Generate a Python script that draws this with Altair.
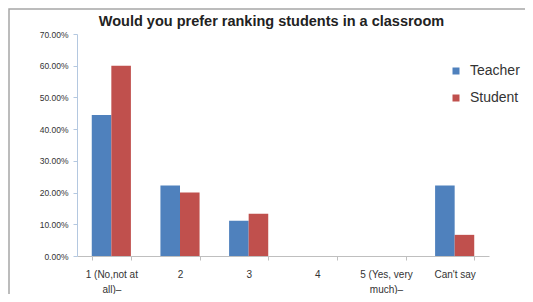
import altair as alt
import pandas as pd

categories = ["1 (No,not at all)–", "2", "3", "4", "5 (Yes, very much)–", "Can't say"]
teacher = [0.4444, 0.2222, 0.1111, 0.0, 0.0, 0.2222]
student = [0.60, 0.20, 0.1333, 0.0, 0.0, 0.0667]
series = ["Teacher", "Student"]
colors = ["#4F81BD", "#C0504D"]
title_text = "Would you prefer ranking students in a classroom"

rows = []
for c, t, s in zip(categories, teacher, student):
    rows.append({"cat": c, "series": "Teacher", "value": t})
    rows.append({"cat": c, "series": "Student", "value": s})
df = pd.DataFrame(rows)

label_expr = ("datum.label == '1 (No,not at all)–' ? ['1 (No,not at', 'all)–'] : "
              "datum.label == '5 (Yes, very much)–' ? ['5 (Yes, very', 'much)–'] : datum.label")

W, H = 412, 222
PL, PT = 69, 26

bars = alt.Chart(df).mark_bar().encode(
    x=alt.X("cat:N", sort=categories, title=None,
            scale=alt.Scale(paddingInner=0.43, paddingOuter=0.215),
            axis=alt.Axis(labelAngle=0, labelExpr=label_expr, labelFontSize=10,
                          labelColor="#333333", domainColor="#BFBFBF", tickColor="#BFBFBF",
                          tickBand="extent", tickSize=4, labelPadding=9, labelLineHeight=15,
                          labelFont="Liberation Sans")),
    xOffset=alt.XOffset("series:N", sort=series),
    y=alt.Y("value:Q", title=None,
            scale=alt.Scale(domain=[0, 0.7]),
            axis=alt.Axis(format=".2%", values=[0, 0.1, 0.2, 0.3, 0.4, 0.5, 0.6, 0.7],
                          grid=False, labelFontSize=8.5, labelColor="#333333",
                          domainColor="#B4C8E0", tickColor="#B4C8E0", tickSize=4,
                          labelPadding=5, labelFont="Liberation Sans")),
    color=alt.Color("series:N", sort=series,
                    scale=alt.Scale(domain=series, range=colors),
                    legend=alt.Legend(title=None, orient="none", legendX=372, legendY=30,
                                      symbolType="square", symbolSize=49, symbolStrokeWidth=0,
                                      labelFontSize=14, labelColor="#333333", rowPadding=13,
                                      labelOffset=7, labelFont="Liberation Sans")),
)

frame = alt.Chart(pd.DataFrame({"a": [0]})).mark_rect(
    fill=None, stroke="#A6A6A6", strokeWidth=1.5, clip=False
).encode(x=alt.value(-PL + 1), x2=alt.value(560 - PL),
         y=alt.value(-PT + 1), y2=alt.value(330 - PT))

title = alt.Chart(pd.DataFrame({"t": [title_text]})).mark_text(
    font="Liberation Sans", fontSize=14.5, fontWeight="bold", color="#222222",
    align="center", baseline="alphabetic"
).encode(text="t:N", x=alt.value(271.5 - 77), y=alt.value(26 - 34))

chart = alt.layer(frame, bars, title).properties(
    width=W, height=H,
    autosize=alt.AutoSizeParams(type="none"),
    padding={"left": PL, "top": PT, "right": 517 - PL - W, "bottom": 286 - PT - H},
).configure_view(stroke=None)

chart.save("out.html", embed_options={"renderer": "svg", "actions": False})
